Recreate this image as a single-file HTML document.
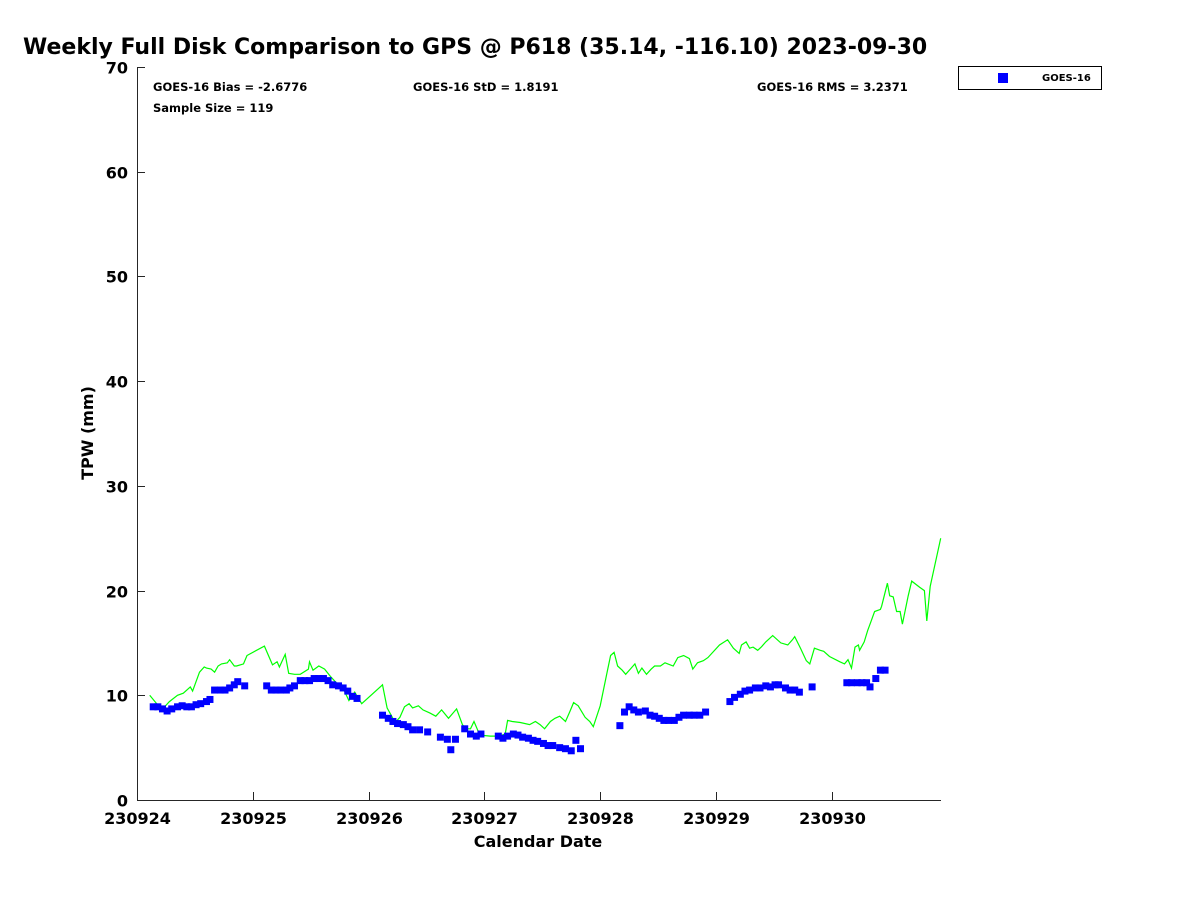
<!DOCTYPE html>
<html><head><meta charset="utf-8"><style>
body{margin:0;background:#fff;width:1200px;height:900px;overflow:hidden}
svg text{font-family:"DejaVu Sans","Liberation Sans",sans-serif;font-weight:bold;fill:#000}
</style></head><body>
<svg id="chart" width="1200" height="900">
<text x="23" y="54" font-size="22">Weekly Full Disk Comparison to GPS @ P618 (35.14, -116.10) 2023-09-30</text>
<g id="axes"></g>
<g id="series"></g>
<text x="153" y="91" font-size="11.5">GOES-16 Bias = -2.6776</text>
<text x="413" y="91" font-size="11.5">GOES-16 StD = 1.8191</text>
<text x="757" y="91" font-size="11.5">GOES-16 RMS = 3.2371</text>
<text x="153" y="112" font-size="11.5">Sample Size = 119</text>
<g>
<rect x="958.5" y="66.5" width="143" height="23" fill="#fff" stroke="#000" stroke-width="1"/>
<rect x="998" y="73" width="10" height="10" fill="#0000ff"/>
<text x="1042" y="81" font-size="10">GOES-16</text>
</g>
<text x="538" y="847" font-size="16" text-anchor="middle" fill="#262626">Calendar Date</text>
<text transform="translate(93,433) rotate(-90)" font-size="16" text-anchor="middle" fill="#262626">TPW (mm)</text>
</svg>
<script>
const xTickLabels=["230924","230925","230926","230927","230928","230929","230930"];
const yTicks=[0,10,20,30,40,50,60,70];
const goesT=[0.14,0.18,0.22,0.26,0.30,0.35,0.39,0.43,0.47,0.51,0.55,0.60,0.63,0.67,0.72,0.76,0.80,0.84,0.87,0.93,1.12,1.16,1.20,1.24,1.29,1.32,1.36,1.41,1.45,1.49,1.53,1.57,1.61,1.65,1.69,1.74,1.78,1.82,1.86,1.90,2.12,2.17,2.21,2.25,2.30,2.34,2.38,2.44,2.51,2.62,2.68,2.71,2.75,2.83,2.88,2.93,2.97,3.12,3.16,3.20,3.25,3.29,3.33,3.38,3.42,3.46,3.51,3.55,3.59,3.65,3.70,3.75,3.79,3.83,4.17,4.21,4.25,4.29,4.33,4.39,4.43,4.47,4.51,4.55,4.59,4.64,4.68,4.72,4.77,4.81,4.86,4.91,5.12,5.16,5.21,5.25,5.29,5.34,5.38,5.43,5.47,5.51,5.54,5.60,5.64,5.68,5.72,5.83,6.13,6.17,6.22,6.26,6.30,6.33,6.38,6.42,6.46];
const goesV=[8.9,8.9,8.7,8.5,8.7,8.9,9.0,8.9,8.9,9.1,9.2,9.4,9.6,10.5,10.5,10.5,10.7,11.0,11.3,10.9,10.9,10.5,10.5,10.5,10.5,10.7,10.9,11.4,11.4,11.4,11.6,11.6,11.6,11.4,11.0,10.9,10.7,10.4,9.9,9.7,8.1,7.8,7.5,7.3,7.2,7.0,6.7,6.7,6.5,6.0,5.8,4.8,5.8,6.8,6.3,6.1,6.3,6.1,5.9,6.1,6.3,6.2,6.0,5.9,5.7,5.6,5.4,5.2,5.2,5.0,4.9,4.7,5.7,4.9,7.1,8.4,8.9,8.6,8.4,8.5,8.1,8.0,7.8,7.6,7.6,7.6,7.9,8.1,8.1,8.1,8.1,8.4,9.4,9.8,10.1,10.4,10.5,10.7,10.7,10.9,10.8,11.0,11.0,10.7,10.5,10.5,10.3,10.8,11.2,11.2,11.2,11.2,11.2,10.8,11.6,12.4,12.4];
const gpsT=[0.11,0.17,0.23,0.28,0.35,0.40,0.46,0.48,0.54,0.58,0.60,0.64,0.67,0.70,0.73,0.78,0.80,0.84,0.86,0.92,0.95,1.10,1.17,1.21,1.23,1.28,1.31,1.36,1.41,1.48,1.49,1.52,1.57,1.62,1.67,1.72,1.77,1.80,1.83,1.88,1.94,2.12,2.16,2.23,2.27,2.31,2.35,2.38,2.43,2.47,2.53,2.58,2.63,2.69,2.76,2.81,2.84,2.88,2.91,2.96,3.05,3.13,3.18,3.20,3.24,3.31,3.39,3.44,3.48,3.52,3.57,3.61,3.65,3.70,3.74,3.77,3.81,3.87,3.91,3.94,4.00,4.06,4.09,4.12,4.15,4.19,4.22,4.26,4.30,4.33,4.36,4.40,4.44,4.47,4.52,4.56,4.63,4.67,4.72,4.77,4.80,4.84,4.89,4.93,5.03,5.10,5.15,5.20,5.22,5.26,5.29,5.32,5.36,5.39,5.43,5.49,5.56,5.62,5.66,5.68,5.73,5.78,5.81,5.85,5.90,5.93,5.98,6.07,6.11,6.14,6.17,6.20,6.23,6.24,6.28,6.31,6.34,6.37,6.42,6.43,6.48,6.50,6.53,6.56,6.59,6.61,6.66,6.69,6.76,6.80,6.82,6.85,6.94];
const gpsV=[10.0,9.2,8.8,9.4,10.0,10.2,10.8,10.4,12.2,12.7,12.6,12.5,12.2,12.8,13.0,13.1,13.4,12.8,12.8,13.0,13.8,14.7,12.9,13.2,12.7,13.9,12.1,12.0,12.0,12.5,13.2,12.4,12.8,12.5,11.8,11.2,11.0,10.2,9.5,10.3,9.2,11.0,8.8,7.4,7.9,8.9,9.2,8.8,9.0,8.6,8.3,8.0,8.6,7.8,8.7,7.2,6.8,6.8,7.5,6.2,6.1,6.1,6.3,7.6,7.5,7.4,7.2,7.5,7.2,6.8,7.5,7.8,8.0,7.5,8.5,9.3,9.0,7.9,7.5,7.0,9.0,12.2,13.8,14.1,12.8,12.4,12.0,12.5,13.0,12.1,12.6,12.0,12.5,12.8,12.8,13.1,12.8,13.6,13.8,13.5,12.5,13.1,13.3,13.6,14.8,15.3,14.5,14.0,14.8,15.1,14.5,14.6,14.3,14.6,15.1,15.7,15.0,14.8,15.3,15.6,14.5,13.3,13.0,14.5,14.3,14.2,13.7,13.2,13.0,13.4,12.6,14.6,14.8,14.3,15.1,16.2,17.1,18.0,18.2,18.5,20.7,19.5,19.4,18.0,18.0,16.8,19.5,20.9,20.3,20.0,17.1,20.4,25.0];

const NS="http://www.w3.org/2000/svg";
const X0=137,X1=941,Y0=800,Y1=67,XMAX=6.943,YMAX=70;
const xs=d=>X0+d*(X1-X0)/XMAX;
const ys=v=>Y0-v*(Y0-Y1)/YMAX;
function mk(tag,attrs,parent){const e=document.createElementNS(NS,tag);for(const k in attrs)e.setAttribute(k,attrs[k]);parent.appendChild(e);return e;}
const axes=document.getElementById('axes'),series=document.getElementById('series');
let l=mk('line',{x1:X0+0.5,y1:Y1,x2:X0+0.5,y2:Y0+0.5,stroke:'#262626','stroke-width':1},axes);


l=mk('line',{x1:X0,y1:Y0+0.5,x2:X1,y2:Y0+0.5,stroke:'#262626','stroke-width':1},axes);


yTicks.forEach(v=>{
  const y=Math.round(ys(v))+0.5;
  mk('line',{x1:X0,y1:y,x2:X0+8,y2:y,stroke:'#262626'},axes);
  const t=mk('text',{x:128,y:y+6,'font-size':16,'text-anchor':'end',fill:'#262626'},axes);
  t.textContent=v;
  
  
});
xTickLabels.forEach((s,i)=>{
  const x=Math.round(xs(i))+0.5;
  mk('line',{x1:x,y1:Y0,x2:x,y2:Y0-8,stroke:'#262626'},axes);
  const t=mk('text',{x:x,y:824,'font-size':16,'text-anchor':'middle',fill:'#262626'},axes);
  t.textContent=s;
  
  
});
const pts=gpsT.map((t,i)=>xs(t).toFixed(1)+','+ys(gpsV[i]).toFixed(1)).join(' ');
const pl=mk('polyline',{points:pts,fill:'none',stroke:'#00ff00','stroke-width':1.2},series);


goesT.forEach((t,i)=>{
  const r=mk('rect',{x:xs(t)-3.5,y:ys(goesV[i])-3.5,width:7,height:7,fill:'#0000ff'},series);
  
  
});
</script>
</body></html>
